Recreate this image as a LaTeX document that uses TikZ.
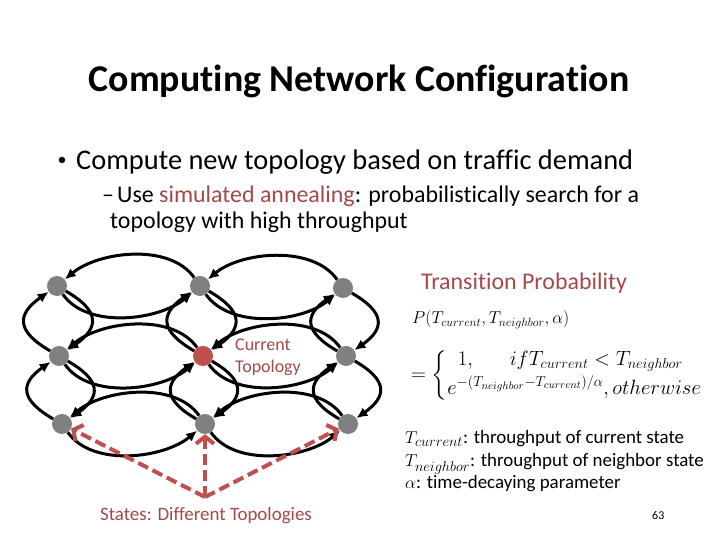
\documentclass[tikz,border=0pt]{standalone}
\usepackage{amsmath}
\usepackage[no-math]{fontspec}
\setmainfont{Carlito}[Ligatures=NoCommon]
\usetikzlibrary{arrows.meta}
\definecolor{accent}{RGB}{165,72,72}
\definecolor{arrowred}{RGB}{192,80,77}
\definecolor{nodegray}{RGB}{128,128,128}
\begin{document}
\begin{tikzpicture}[x=1bp,y=1bp,
  vtx/.style={circle, fill=nodegray, minimum size=20bp, inner sep=0pt},
  cur/.style={vtx, fill=arrowred},
  link/.style={line width=3bp, -{Latex[length=11bp,width=10bp]}},
  pick/.style={arrowred, line width=4bp, dash pattern=on 11bp off 5bp, -{Straight Barb[length=7bp,width=18bp]}},
  txt/.style={anchor=base west, inner sep=0pt},
  lab/.style={txt, text=accent}]
\useasboundingbox (0,0) rectangle (720,540);

% title and bullets
\node[anchor=base, inner sep=0pt, font=\fontsize{38}{44}\bfseries] (title) at (359,448) {Computing Network Configuration};
\node[anchor=center, inner sep=0pt, font=\fontsize{18}{20}\selectfont] (bul) at (62,379) {•};
\node[txt, font=\fontsize{28.5}{32}\selectfont] (b1) at (76,370) {Compute new topology based on traffic demand};
\node[txt, font=\fontsize{24}{28}\selectfont] (dash) at (102,337) {–};
\node[txt, font=\fontsize{24}{28}\selectfont] (s1) at (117,337) {Use \textcolor{accent}{simulated annealing}: probabilistically search for a};
\node[txt, font=\fontsize{24}{28}\selectfont] (s2) at (110,311) {topology with high throughput};

% graph nodes
\node[vtx] (A1) at (57,254) {};
\node[vtx] (B1) at (200,254) {};
\node[vtx] (C1) at (343,252) {};
\node[vtx] (A2) at (59,184) {};
\node[cur] (B2) at (203,184) {};
\node[vtx] (C2) at (346,184) {};
\node[vtx] (A3) at (62,116) {};
\node[vtx] (B3) at (205,116) {};
\node[vtx] (C3) at (348,116) {};

% horizontal links
\foreach \l/\r in {A1/B1,B1/C1,A2/B2,B2/C2,A3/B3,B3/C3}{
  \draw[link] (\r) to[out=125,in=40,looseness=0.85] (\l);
  \draw[link] (\l) to[out=-55,in=-140,looseness=0.85] (\r);
}
% vertical links
\foreach \t/\d in {A1/A2,A2/A3,B1/B2,B2/B3,C1/C2,C2/C3}{
  \draw[link] (\d) to[out=150,in=215,looseness=1.7] (\t);
  \draw[link] (\t) to[out=-30,in=35,looseness=1.7] (\d);
}

% labels near graph
\node[lab, font=\fontsize{18}{21}\selectfont] (cur1) at (235,189) {Current};
\node[lab, font=\fontsize{18}{21}\selectfont] (cur2) at (235,167) {Topology};

% states pointer
\coordinate (apex) at (205,43);
\draw[pick] (apex) -- (A3);
\draw[pick] (apex) -- (B3);
\draw[pick] (apex) -- (C3);
\node[anchor=base, inner sep=0pt, text=accent, font=\fontsize{19}{22}\selectfont] (states) at (206,19) {States: Different Topologies};

% transition probability
\node[lab, font=\fontsize{24}{28}\selectfont] (tp) at (421,250) {Transition Probability};
\node[txt, font=\fontsize{18}{22}\selectfont] (pf) at (412,216) {$P(T_{current},T_{neighbor},\alpha)$};
\node[anchor=west, inner sep=0pt, font=\fontsize{21}{25}\selectfont] (cases) at (411,165)
  {$=\left\{\begin{array}{@{}l@{}}\hspace{0.5em}1,\hspace{1.6em}if T_{current}<T_{neighbor}\\[3pt]
    e^{-(T_{neighbor}-T_{current})/\alpha},otherwise\end{array}\right.$};
\node[txt, font=\fontsize{19}{22}\selectfont] (l1) at (405,96) {$T_{current}$: throughput of current state};
\node[txt, font=\fontsize{19}{22}\selectfont] (l2) at (405,73) {$T_{neighbor}$: throughput of neighbor state};
\node[txt, font=\fontsize{19}{22}\selectfont] (l3) at (405,51) {$\alpha$: time-decaying parameter};

\node[txt, font=\fontsize{12}{14}\selectfont] (pg) at (652,20) {63};
\end{tikzpicture}
\end{document}
